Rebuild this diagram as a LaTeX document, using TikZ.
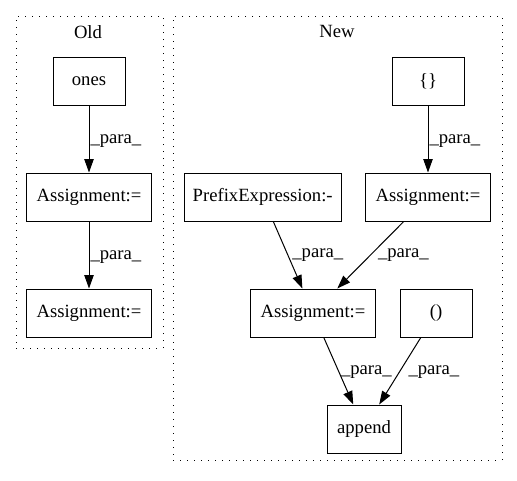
\documentclass[tikz,border=0pt]{standalone}
\usepackage{fontspec}
\setmainfont{Liberation Serif}
\usepackage{tikz}
\usetikzlibrary{shapes, arrows.meta, positioning}
\tikzstyle{opbox} = [rectangle, minimum height=36pt, text centered, draw=black, line width=0.75pt, fill=white, font=\fontsize{14pt}{16pt}\selectfont]
\tikzstyle{cluster} = [rectangle, draw=black, line width=0.75pt, dash pattern=on 0.75pt off 4.5pt]
\tikzstyle{title} = [inner sep=0pt, font=\fontsize{14pt}{16pt}\selectfont]
\tikzstyle{para} = [anchor=west, inner sep=0pt, font=\fontsize{14pt}{16pt}\selectfont]

\begin{document}
\begin{tikzpicture}[node distance=87pt, line width=0.75pt]
\useasboundingbox (0pt,0pt) rectangle (387.75pt,-360pt);
\node (oldbox) [cluster, minimum width=110.25pt, minimum height=249pt] at (67.125pt,-136.5pt) {};
\node (newbox) [cluster, minimum width=246.75pt, minimum height=333pt] at (253.125pt,-178.5pt) {};
\node (oldtitle) [title] at (66pt,-24pt) {Old};
\node (newtitle) [title] at (252.75pt,-23.25pt) {New};
\node (ones) [opbox, minimum width=54pt] at (66.75pt,-60.75pt) {ones};
\node (oa1) [opbox, minimum width=94pt, below of=ones] {Assignment:=};
\node (oa2) [opbox, minimum width=94pt, below of=oa1] {Assignment:=};
\node (brace) [opbox, minimum width=54pt, below of=ones, xshift=254.25pt, yshift=87pt] {\{\}};
\node (na1) [opbox, minimum width=94pt, below of=brace] {Assignment:=};
\node (prefix) [opbox, minimum width=118pt, below of=brace, xshift=-124pt] {PrefixExpression:-};
\node (na2) [opbox, minimum width=94pt, below of=na1, xshift=-86.25pt] {Assignment:=};
\node (paren) [opbox, minimum width=54pt, below of=na1, xshift=6pt] {()};
\node (append) [opbox, minimum width=55.5pt, below of=na2, xshift=38.25pt] {append};
\draw[-{Stealth[length=10pt, width=7pt, inset=0pt]}] (ones) -- node[para, xshift=0.75pt, yshift=-1.5pt] {\_para\_} (oa1);
\draw[-{Stealth[length=10pt, width=7pt, inset=0pt]}] (oa1) -- node[para, xshift=0.75pt, yshift=-1.5pt] {\_para\_} (oa2);
\draw[-{Stealth[length=10pt, width=7pt, inset=0pt]}] (brace) -- node[para, xshift=0.75pt, yshift=-1.5pt] {\_para\_} (na1);
\draw[-{Stealth[length=10pt, width=7pt, inset=0pt]}] (prefix) -- node[para, xshift=3pt] {\_para\_} (na2);
\draw[-{Stealth[length=10pt, width=7pt, inset=0pt]}] (na1) -- node[para, xshift=5.25pt] {\_para\_} (na2);
\draw[-{Stealth[length=10pt, width=7pt, inset=0pt]}] (na2) -- node[para, xshift=1.5pt, yshift=-0.75pt] {\_para\_} (append);
\draw[-{Stealth[length=10pt, width=7pt, inset=0pt]}] (paren) -- node[para, xshift=6pt, yshift=-0.75pt] {\_para\_} (append);
\end{tikzpicture}
\end{document}
